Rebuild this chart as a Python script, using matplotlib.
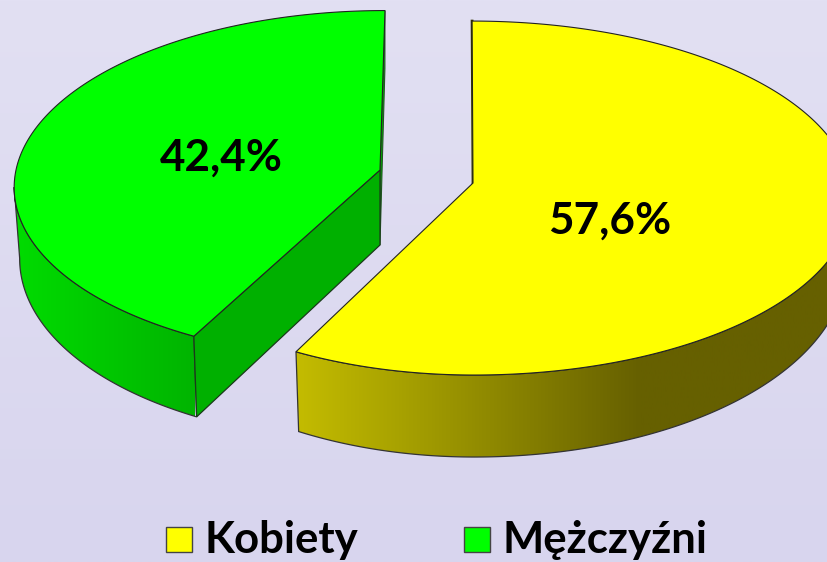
import numpy as np
import matplotlib
matplotlib.use("Agg")
import matplotlib.pyplot as plt
from matplotlib.colors import LinearSegmentedColormap
from matplotlib.patches import Polygon, Rectangle

categories = ["Kobiety", "Mężczyźni"]
shares = [57.6, 42.4]
colors = ["#ffff00", "#00ff00"]

W, H = 827, 562
KP = 0.085  # perspective strength


def project(theta, cx, cy, rx_l, rx_r, ry, shear):
    u, v = np.sin(theta), np.cos(theta)
    s = 1 / (1 + KP * v)
    rx = np.where(u > 0, rx_r, rx_l)
    return cx + (rx * u + shear * v) * s, cy - ry * v * s


def lower(x, y, theta, cx, d0, d1):
    # bottom rim: a bit narrower, depth grows toward viewer
    v = np.cos(theta)
    return cx + (x - cx) * 0.985, y + d0 - d1 * v


def gradient_face(ax, pts, stops, xr):
    cmap = LinearSegmentedColormap.from_list("g", stops)
    im = ax.imshow(np.linspace(0, 1, 256)[None, :], extent=(xr[0], xr[1], H, 0),
                   cmap=cmap, aspect="auto", zorder=2)
    poly = Polygon(pts, closed=True, transform=ax.transData, fc="none", ec="#333333", lw=0.9, zorder=2.5)
    ax.add_patch(poly)
    im.set_clip_path(poly)


fig = plt.figure(figsize=(W / 100, H / 100), dpi=100)
ax = fig.add_axes([0, 0, 1, 1])
bg = LinearSegmentedColormap.from_list("bg", ["#e2e0f3", "#d8d5ee"])
ax.imshow(np.linspace(0, 1, 256)[:, None], extent=(0, W, H, 0), cmap=bg, aspect="auto", zorder=0)

split = 2 * np.pi * shares[0] / sum(shares)

# yellow slice
th = np.linspace(0, split, 500)
cx, cy = 473, 183
x, y = project(th, cx, cy, 358, 378, 175.7, -1)
xl, yl = lower(x, y, th, cx, 62, 20)
side = np.r_[np.c_[x[np.argmax(x):], y[np.argmax(x):]], np.c_[xl[np.argmax(xl):], yl[np.argmax(xl):]][::-1]]
gradient_face(ax, side, [(0, "#c4bc00"), (0.17, "#a8a200"), (0.57, "#666000"), (1, "#666000")], (295, 900))
ax.plot([x[0], cx], [y[0], cy], color="#333300", lw=2.0, zorder=2.6)
ax.add_patch(Polygon(np.r_[[[cx, cy]], np.c_[x, y]], closed=True, fc=colors[0], ec="#222222", lw=0.8, zorder=3))

# green slice
th = np.linspace(split, 2 * np.pi, 400)
cx, cy = 380, 170
x, y = project(th, cx, cy, 364, 364, 173, 5.4)
xl, yl = lower(x, y, th, cx, 70, 12)
ax.add_patch(Polygon([[x[-1], y[-1]], [cx, cy], [cx, cy + 75], [xl[-1], yl[-1]]], closed=True,
                     fc="#00a800", ec="#225522", lw=0.8, zorder=1.5))
i_up, i_lo = np.argmin(x) + 1, np.argmin(xl) + 1
side = np.r_[np.c_[x[:i_up], y[:i_up]], np.c_[xl[:i_lo], yl[:i_lo]][::-1]]
gradient_face(ax, side, [(0, "#00dc00"), (1, "#00b400")], (15, 195))
ax.add_patch(Polygon([[x[0], y[0]], [cx, cy], [cx, cy + 75], [xl[0], yl[0]]], closed=True,
                     fc="#00b000", ec="#1a3a1a", lw=0.9, zorder=2.7))
ax.add_patch(Polygon(np.r_[[[cx, cy]], np.c_[x, y]], closed=True, fc=colors[1], ec="#222222", lw=0.8, zorder=3))

# percent labels
label_pos = [(610, 221), (221, 158)]
for v, (lx, ly) in zip(shares, label_pos):
    ax.text(lx, ly, f"{v:.1f}%".replace(".", ","), ha="center", va="center", fontsize=31.7,
            fontweight="bold", family="Lato", color="black", zorder=5)

# legend
for name, col, bx, tx in zip(categories, colors, [166, 464], [205, 503]):
    ax.add_patch(Rectangle((bx, 527), 26, 25, fc=col, ec="#444444", lw=1.0, zorder=5))
    ax.text(tx, 553, name, ha="left", va="baseline", fontsize=31.5, fontweight="bold",
            family="Lato", color="black", zorder=5)

ax.set_xlim(0, W)
ax.set_ylim(H, 0)
ax.axis("off")
fig.savefig("out.png", dpi=100)
